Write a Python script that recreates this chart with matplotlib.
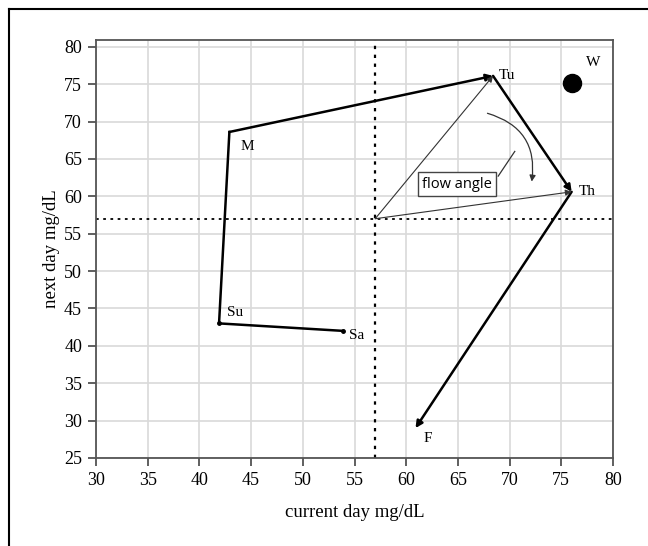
import matplotlib.pyplot as plt
from matplotlib.lines import Line2D
from matplotlib.patches import FancyArrowPatch

plt.rcParams['font.family'] = ['Liberation Serif', 'DejaVu Serif']

# weekly glucose path (current day vs next day)
days = ['Sa', 'Su', 'M', 'Tu', 'Th', 'F']
cur = [53.9, 41.9, 42.9, 68.4, 76.0, 60.9]
nxt = [42.0, 43.0, 68.6, 76.1, 60.6, 29.0]
missing_day = 'W'
missing_x, missing_y = 76.0, 75.1
mean_val = 57.0

xticks = list(range(30, 81, 5))
yticks = list(range(25, 81, 5))

fig = plt.figure(figsize=(6.48, 5.46), dpi=100)
ax = fig.add_axes([96 / 648, 1 - 458 / 546, 517 / 648, 418 / 546])

# frame around the figure (only top / left visible in original)
fig.add_artist(Line2D([9 / 648, 1.0], [1 - 9 / 546, 1 - 9 / 546], color='black', lw=1.5))
fig.add_artist(Line2D([9 / 648, 9 / 648], [0.0, 1 - 9 / 546], color='black', lw=1.5))

ax.set_xlim(30, 80)
ax.set_ylim(25, 80.9)
ax.set_xticks(xticks)
ax.set_yticks(yticks)
ax.grid(color='#d9d9d9', lw=1.2)
ax.set_axisbelow(True)
for s in ax.spines.values():
    s.set_color('#555555')
    s.set_linewidth(1.3)
ax.tick_params(direction='out', length=6, width=1.2, color='#444444', labelsize=13, pad=4)
ax.set_xlabel('current day mg/dL', fontsize=13.5, labelpad=11)
ax.set_ylabel('next day mg/dL', fontsize=13.5, labelpad=3)

# mean reference lines
ax.axvline(mean_val, color='black', ls=(0, (1.5, 2.5)), lw=1.6)
ax.axhline(mean_val, color='black', ls=(0, (1.5, 2.5)), lw=1.3)

# path segments
ax.plot(cur[:3], nxt[:3], color='black', lw=1.8)
ax.plot(cur[:2], nxt[:2], 'o', color='black', ms=2.5)
for i in range(2, len(cur) - 1):
    ax.annotate('', xy=(cur[i + 1], nxt[i + 1]), xytext=(cur[i], nxt[i]),
                arrowprops=dict(arrowstyle='-|>', color='black', lw=1.8,
                                mutation_scale=10, shrinkA=0, shrinkB=0))

# flow angle vectors from the mean point
for i in (3, 4):
    ax.annotate('', xy=(cur[i], nxt[i]), xytext=(mean_val, mean_val),
                arrowprops=dict(arrowstyle='-|>', color='#333333', lw=0.8,
                                mutation_scale=9, shrinkA=0, shrinkB=0))

arc = FancyArrowPatch((67.6, 71.2), (72.1, 61.6), connectionstyle='arc3,rad=-0.45',
                      arrowstyle='-|>', mutation_scale=9, color='#333333', lw=0.9)
ax.add_patch(arc)
ax.plot([68.9, 70.5], [62.7, 66.0], color='#333333', lw=0.9)
ax.text(64.9, 61.6, 'flow angle', family=['Open Sans', 'DejaVu Sans'], fontsize=10.5,
        ha='center', va='center',
        bbox=dict(boxstyle='square,pad=0.3', fc='white', ec='#444444', lw=1.0))

ax.plot(missing_x, missing_y, 'o', color='black', ms=13)

offsets = {'Sa': (4, -3, 'left', 'center'), 'Su': (6, 3, 'left', 'bottom'),
           'M': (8, -6, 'left', 'top'), 'Tu': (4, 0, 'left', 'center'),
           'Th': (5, 0, 'left', 'center'), 'F': (6, -3, 'left', 'top')}
for d, x, y in zip(days, cur, nxt):
    dx, dy, ha, va = offsets[d]
    ax.annotate(d, (x, y), xytext=(dx, dy), textcoords='offset points',
                ha=ha, va=va, fontsize=11)
ax.annotate(missing_day, (missing_x, missing_y), xytext=(10, 10), textcoords='offset points',
            ha='left', va='bottom', fontsize=11)

fig.savefig('out.png', dpi=100)
